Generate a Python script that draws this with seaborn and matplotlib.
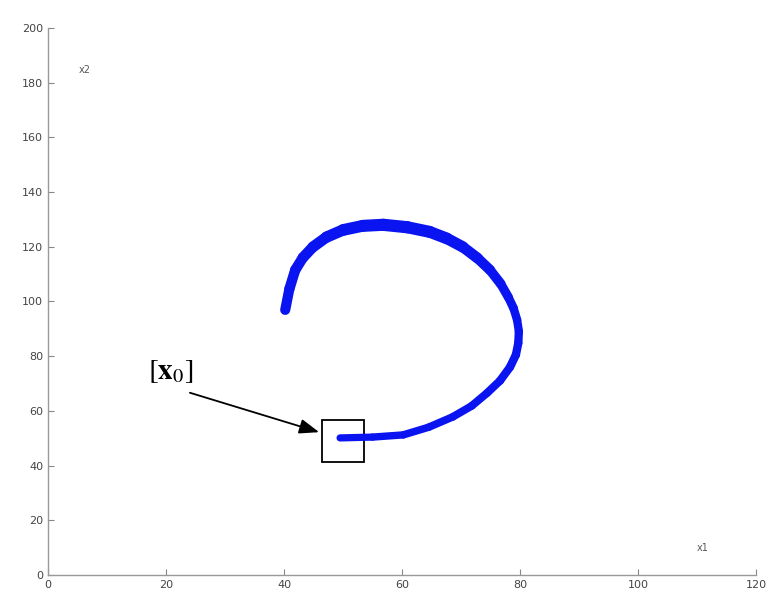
#Libraries
import pandas as pd
import seaborn as sns
import matplotlib.pyplot as plt
from matplotlib.patches import Rectangle

#Trajectory (x1, x2)
x1 = [49.5, 55.0, 60.2, 64.5, 68.6, 71.8, 74.4, 76.6, 78.3, 79.3, 79.7, 79.8, 79.5, 78.9, 78.0, 76.7, 74.9, 72.8,
      70.3, 67.6, 64.7, 60.9, 56.8, 53.3, 50.0, 47.2, 44.9, 43.2, 41.9, 40.9, 40.2]
x2 = [50.1, 50.4, 51.2, 54.0, 57.8, 61.8, 66.5, 71.0, 76.0, 80.5, 84.8, 89.0, 93.2, 97.5, 101.6, 106.5, 111.5, 115.8,
      119.9, 123.0, 125.4, 127.1, 128.0, 127.6, 126.1, 123.5, 119.9, 116.0, 111.5, 104.5, 96.9]

#Box round the start point and the label arrow
box_x = [46.4, 53.6]
box_y = [41.3, 56.7]
label_xy = [17.0, 71.5]
arrow_from = [23.6, 66.9]
arrow_to = [46.4, 51.9]

xticks = [0, 20, 40, 60, 80, 100, 120]
yticks = [0, 20, 40, 60, 80, 100, 120, 140, 160, 180, 200]

#band width (pt) for each step of the curve, it widens towards the top
widths = [5.2, 5.3, 5.4, 5.5, 5.6, 5.7, 5.8, 5.9, 6.0, 6.0, 6.0, 6.0, 6.1, 6.3, 6.6, 7.0, 7.4, 7.8,
          8.2, 8.5, 8.7, 8.8, 8.7, 8.5, 8.2, 7.9, 7.7, 7.5, 7.4, 7.3]

rows = []
for i in range(len(x1) - 1):
    rows.append({'x1': x1[i], 'x2': x2[i], 'step': i, 'order': 0})
    rows.append({'x1': x1[i + 1], 'x2': x2[i + 1], 'step': i, 'order': 1})
df = pd.DataFrame(rows)

sns.set_style('white')
plt.rcParams['mathtext.fontset'] = 'stix'

fig = plt.figure(figsize=(7.68, 5.98), dpi=100)
ax = fig.add_axes([0.0625, 0.0385, 0.922, 0.915])

sns.lineplot(data=df, x='x1', y='x2', units='step', estimator=None, sort=False,
             size='step', sizes={i: w for i, w in enumerate(widths)},
             color='#0a14f0', legend=False, ax=ax,
             solid_capstyle='round', solid_joinstyle='round')

ax.add_patch(Rectangle((box_x[0], box_y[0]), box_x[1] - box_x[0], box_y[1] - box_y[0],
                       fill=False, edgecolor='black', lw=1.3))
ax.annotate('', xy=arrow_to, xytext=arrow_from,
            arrowprops=dict(arrowstyle='-|>,head_length=1.2,head_width=0.45', color='black', lw=1.3))
ax.text(label_xy[0], label_xy[1], r'$[\mathbf{x}_0]$', fontsize=21, color='black')

ax.text(6.3, 184.7, 'x2', fontsize=7, color='#555555', ha='center', va='center')
ax.text(111, 9.9, 'x1', fontsize=7, color='#555555', ha='center', va='center')

ax.set_xlim(0, 120)
ax.set_ylim(0, 200)
ax.set_xticks(xticks)
ax.set_yticks(yticks)
ax.set_xlabel('')
ax.set_ylabel('')
ax.tick_params(direction='in', length=4, colors='#888888', labelcolor='#444444', labelsize=8, left=True, bottom=True)
sns.despine(ax=ax)
for s in ['left', 'bottom']:
    ax.spines[s].set_color('#999999')
    ax.spines[s].set_linewidth(1.0)

fig.savefig('out.png', dpi=100)
